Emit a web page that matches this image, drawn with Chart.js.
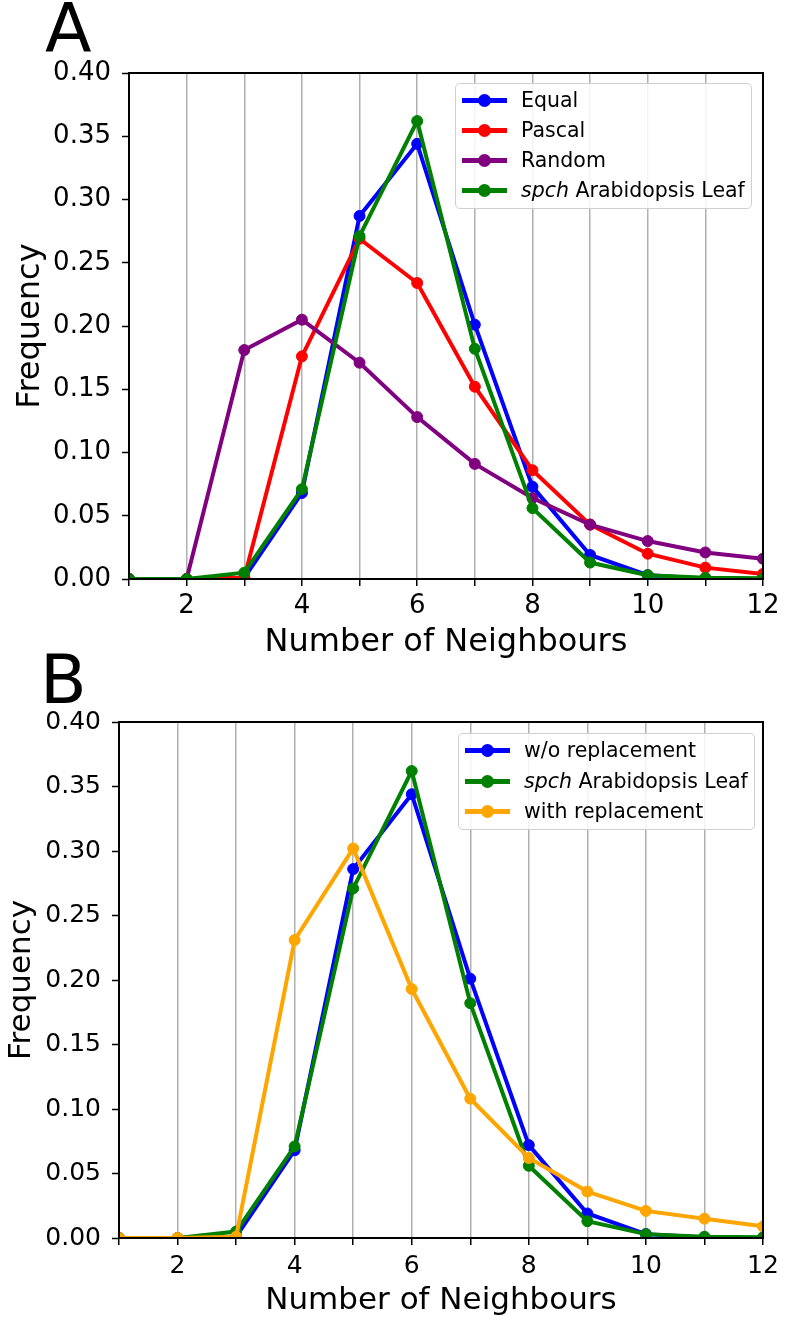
<!DOCTYPE html>
<html>
<head>
<meta charset="utf-8">
<script src="https://cdn.jsdelivr.net/npm/chart.js@4.4.1/dist/chart.umd.min.js"></script>
<style>
  body { margin: 0; background: #fff; font-family: 'DejaVu Sans', sans-serif; }
  #page { position: relative; width: 785px; height: 1327px; overflow: hidden; background: #fff; }
  .panel { position: absolute; left: 0; }
  .letter { position: absolute; font-size: 68px; line-height: 68px; color: #000; }
  .legend { position: absolute; box-sizing: border-box; border: 1px solid #cfcfcf; border-radius: 5px; background: rgba(255, 255, 255, 0.85); }
  .legend-row { position: absolute; left: 0; width: 100%; height: 30px; }
  .legend-row .handle { position: absolute; left: 6px; top: 13px; width: 45px; height: 5px; }
  .legend-row .dot { position: absolute; left: 22px; top: 9px; width: 13px; height: 13px; border-radius: 50%; }
  .legend-row .text { position: absolute; left: 65px; top: 0; line-height: 30px; font-size: 20.5px; color: #000; white-space: nowrap; }
</style>
</head>
<body>
<div id="page">
  <div class="letter" style="left:45px; top:-5px;">A</div>
  <canvas id="chartA" class="panel" width="785" height="662" style="top:0;"></canvas>
  <div id="legendA" class="legend" style="left:455px; top:83px; width:297px; height:126px;"></div>

  <div class="letter" style="left:40px; top:646px;">B</div>
  <canvas id="chartB" class="panel" width="785" height="665" style="top:662px;"></canvas>
  <div id="legendB" class="legend" style="left:458px; top:733px; width:297px; height:97px;"></div>
</div>

<script>
  // число соседей (ось X) и частоты по каждой серии
  const neighbours = [1, 2, 3, 4, 5, 6, 7, 8, 9, 10, 11, 12];

  // панель A
  const equalFreq  = [0, 0, 0.001, 0.068, 0.287, 0.344, 0.201, 0.073, 0.019, 0.003, 0.0003, 0];
  const pascalFreq = [0, 0, 0.001, 0.176, 0.269, 0.234, 0.152, 0.086, 0.043, 0.020, 0.009, 0.004];
  const randomFreq = [0, 0, 0.181, 0.205, 0.171, 0.128, 0.091, 0.064, 0.043, 0.030, 0.021, 0.016];
  const spchFreq   = [0, 0, 0.005, 0.071, 0.271, 0.362, 0.182, 0.056, 0.013, 0.003, 0.001, 0.0005];

  // панель B
  const woReplacementFreq   = [0, 0, 0.001, 0.068, 0.286, 0.344, 0.201, 0.072, 0.019, 0.003, 0.0003, 0];
  const spchFreqB           = [0, 0, 0.005, 0.071, 0.271, 0.362, 0.182, 0.056, 0.013, 0.003, 0.001, 0.0005];
  const withReplacementFreq = [0, 0, 0.001, 0.231, 0.302, 0.193, 0.108, 0.062, 0.036, 0.021, 0.015, 0.009];

  const yTicksMax = 0.4;
  const yTicksStep = 0.05;

  const seriesA = [
    { name: 'Equal', data: equalFreq, color: '#0000ff' },
    { name: 'Pascal', data: pascalFreq, color: '#ff0000' },
    { name: 'Random', data: randomFreq, color: '#800080' },
    { name: '<i>spch</i> Arabidopsis Leaf', data: spchFreq, color: '#008000' }
  ];
  const seriesB = [
    { name: 'w/o replacement', data: woReplacementFreq, color: '#0000ff' },
    { name: '<i>spch</i> Arabidopsis Leaf', data: spchFreqB, color: '#008000' },
    { name: 'with replacement', data: withReplacementFreq, color: '#ffa500' }
  ];

  const FONT = "'DejaVu Sans', sans-serif";

  // рамка вокруг области графика (верх и право, как в matplotlib)
  const framePlugin = {
    id: 'frame',
    afterDraw(chart) {
      const { ctx, chartArea: a } = chart;
      ctx.save();
      ctx.strokeStyle = '#000';
      ctx.lineWidth = 2;
      ctx.strokeRect(a.left, a.top, a.right - a.left, a.bottom - a.top);
      ctx.restore();
    }
  };

  function makeDatasets(series) {
    return series.map((s, i) => ({
      label: s.name.replace(/<[^>]+>/g, ''),
      data: neighbours.map((n, k) => ({ x: n, y: s.data[k] })),
      borderColor: s.color,
      backgroundColor: s.color,
      borderWidth: 4,
      pointRadius: 5.5,
      pointBorderWidth: 1,
      pointBorderColor: s.color,
      pointBackgroundColor: s.color,
      tension: 0,
      clip: 0,
      order: series.length - i
    }));
  }

  function makeChart(canvasId, series, p) {
    return new Chart(document.getElementById(canvasId), {
      type: 'line',
      data: { datasets: makeDatasets(series) },
      plugins: [framePlugin],
      options: {
        responsive: false,
        animation: false,
        layout: { padding: { top: p.top, right: p.right, left: 0, bottom: 0 } },
        plugins: {
          legend: { display: false },
          tooltip: { enabled: false }
        },
        scales: {
          x: {
            type: 'linear',
            min: 1,
            max: 12,
            afterFit(scale) { scale.height = p.xHeight; },
            ticks: {
              stepSize: 1,
              color: '#000',
              padding: p.xTickPad,
              font: { family: FONT, size: p.tickSize },
              maxRotation: 0,
              autoSkip: false,
              callback: v => (v % 2 === 0 ? String(v) : '')
            },
            grid: {
              color: '#b0b0b0',
              lineWidth: 1.5,
              drawTicks: true,
              tickLength: 7,
              tickColor: '#000',
              tickWidth: 1.5
            },
            border: { color: '#000', width: 2 },
            title: {
              display: true,
              text: 'Number of Neighbours',
              color: '#000',
              font: { family: FONT, size: p.titleSize },
              padding: { top: 0, bottom: p.xTitlePad }
            }
          },
          y: {
            min: 0,
            max: yTicksMax,
            afterFit(scale) { scale.width = p.yWidth; },
            ticks: {
              stepSize: yTicksStep,
              color: '#000',
              padding: 11,
              font: { family: FONT, size: p.tickSize },
              callback: v => Number(v).toFixed(2)
            },
            grid: {
              drawOnChartArea: false,
              drawTicks: true,
              tickLength: 7,
              tickColor: '#000',
              tickWidth: 1.5
            },
            border: { color: '#000', width: 2 },
            title: {
              display: true,
              text: 'Frequency',
              color: '#000',
              font: { family: FONT, size: p.titleSize },
              padding: { top: p.yTitlePad, bottom: 0 }
            }
          }
        }
      }
    });
  }

  function renderLegend(boxId, series, firstRow, rowStep) {
    const box = document.getElementById(boxId);
    box.innerHTML = '';
    series.forEach((s, i) => {
      const row = document.createElement('div');
      row.className = 'legend-row';
      row.style.top = (firstRow + i * rowStep - 15) + 'px';
      row.innerHTML = `
        <div class="handle" style="background:${s.color}"></div>
        <div class="dot" style="background:${s.color}"></div>
        <div class="text">${s.name}</div>
      `;
      box.appendChild(row);
    });
  }

  makeChart('chartA', seriesA, {
    top: 73, right: 22, yWidth: 129, xHeight: 83,
    tickSize: 26, titleSize: 32, xTickPad: 5, xTitlePad: 0, yTitlePad: 11
  });
  makeChart('chartB', seriesB, {
    top: 60, right: 22, yWidth: 119, xHeight: 89,
    tickSize: 25, titleSize: 31, xTickPad: 6, xTitlePad: 7, yTitlePad: 3
  });

  renderLegend('legendA', seriesA, 16, 30);
  renderLegend('legendB', seriesB, 16, 30.5);
</script>
</body>
</html>
